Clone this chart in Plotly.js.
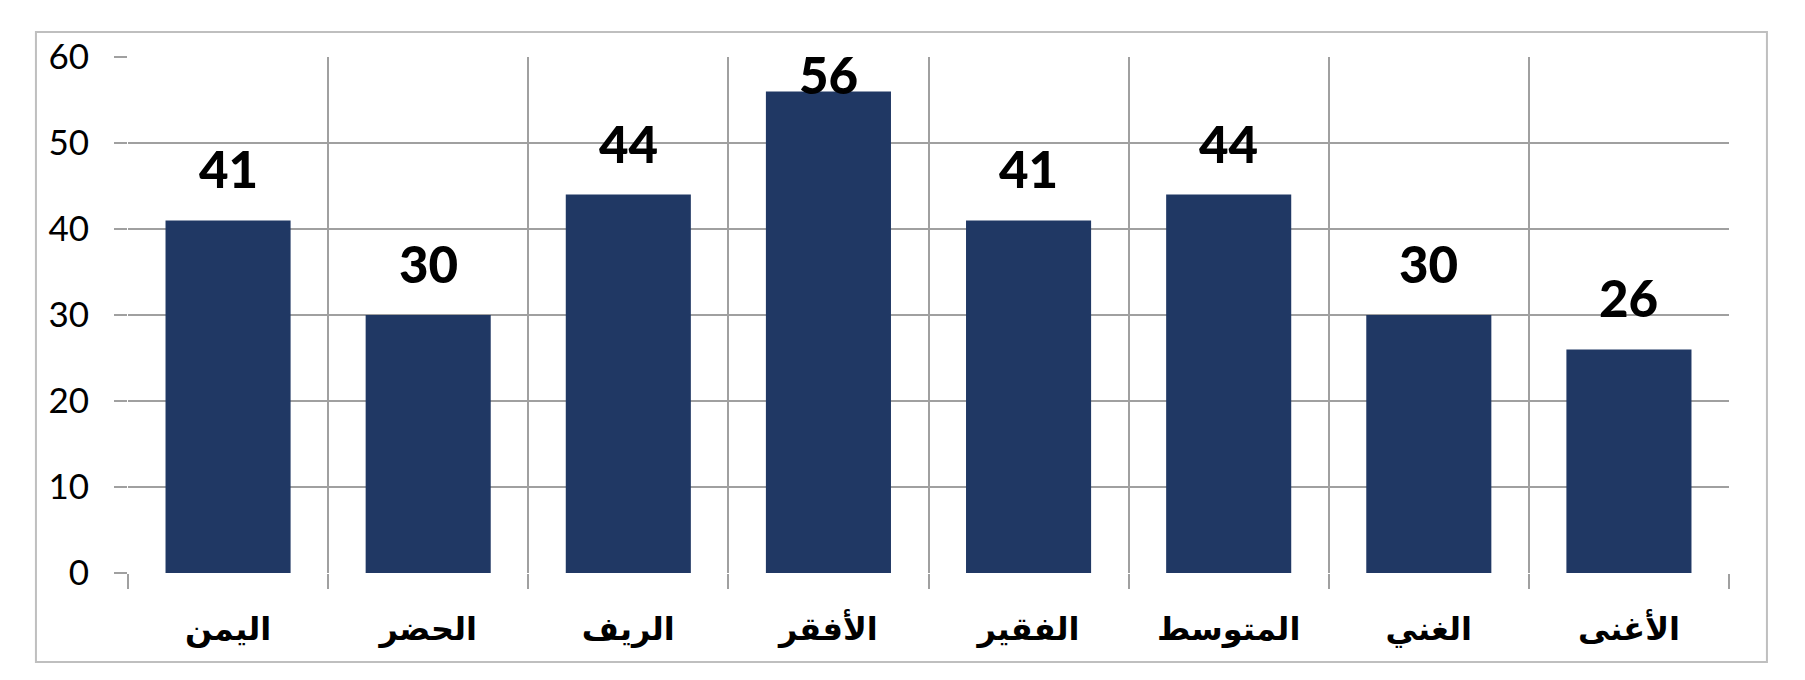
<!DOCTYPE html>
<html>
<head>
<meta charset="utf-8">
<script src="https://cdn.plot.ly/plotly-3.0.1.min.js"></script>
<style>
  html, body { margin: 0; padding: 0; background: #fff; }
  #chart { width: 1805px; height: 680px; }
</style>
</head>
<body>
<div id="chart"></div>
<script>
// categories as they appear left to right
var categories = ["اليمن", "الحضر", "الريف", "الأفقر", "الفقير", "المتوسط", "الغني", "الأغنى"];
var values = [41, 30, 44, 56, 41, 44, 30, 26];
var yTicks = [0, 10, 20, 30, 40, 50, 60];

var barColor = "#203864";
var gridColor = "#a0a0a0";

var data = [
    {
        type: "bar",
        x: categories,
        y: values,
        marker: { color: barColor, line: { width: 0 } },
        hoverinfo: "x+y",
        showlegend: false
    }
];

// value labels above the bars, kept inside the plot area like Excel does
var labels = values.map(function (v, i) {
    return {
        x: categories[i],
        y: Math.min(v + 6, 58),
        xref: "x",
        yref: "y",
        text: String(v),
        showarrow: false,
        yanchor: "middle",
        font: { family: "Lato, 'Open Sans', sans-serif", size: 51, color: "#000", weight: 900 }
    };
});

var layout = {
    width: 1805,
    height: 680,
    margin: { l: 128, r: 76, t: 57, b: 107 },
    paper_bgcolor: "#fff",
    plot_bgcolor: "#fff",
    bargap: 0.375,
    xaxis: {
        type: "category",
        tickson: "boundaries",
        showgrid: true,
        gridcolor: gridColor,
        gridwidth: 2,
        ticks: "outside",
        ticklen: 15,
        tickwidth: 2,
        tickcolor: gridColor,
        showline: false,
        zeroline: false,
        tickfont: { family: "'DejaVu Sans', sans-serif", size: 32, color: "#000", weight: 700 },
        ticklabelstandoff: 34
    },
    yaxis: {
        range: [0, 60],
        tickvals: yTicks,
        showgrid: true,
        gridcolor: gridColor,
        gridwidth: 2,
        zeroline: false,
        showline: false,
        ticks: "outside",
        ticklen: 13,
        tickwidth: 2,
        tickcolor: gridColor,
        tickfont: { family: "Lato, 'Open Sans', sans-serif", size: 35, color: "#000" },
        ticklabelstandoff: 18
    },
    annotations: labels,
    shapes: [
        {
            type: "rect",
            xref: "paper",
            yref: "paper",
            x0: -0.0575, x1: 1.0237,
            y0: -0.1725, y1: 1.0484,
            line: { color: "#bfbfbf", width: 2 },
            fillcolor: "rgba(0,0,0,0)",
            layer: "below"
        }
    ]
};

Plotly.newPlot("chart", data, layout, { displayModeBar: false, staticPlot: true });
</script>
</body>
</html>
